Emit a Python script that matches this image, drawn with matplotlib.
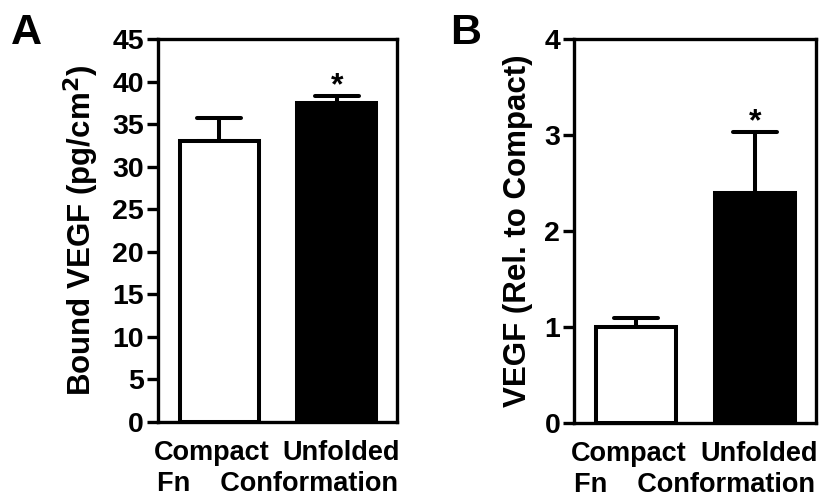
import matplotlib
matplotlib.use("Agg")
import matplotlib.pyplot as plt
from matplotlib.markers import MarkerStyle
from matplotlib.transforms import ScaledTranslation
import numpy as np

plt.rcParams['font.family'] = ['Liberation Sans', 'DejaVu Sans']
plt.rcParams['font.weight'] = 'bold'
plt.rcParams['mathtext.default'] = 'bf'

categories = ["Compact", "Unfolded"]
xlabel_text = "Fn    Conformation"

a_values = [33.0, 37.5]
a_errors = [2.7, 0.8]
a_ticks = [0, 5, 10, 15, 20, 25, 30, 35, 40, 45]
a_ylabel = "Bound VEGF (pg/cm$^\\mathbf{2}$)"

b_values = [1.0, 2.40]
b_errors = [0.09, 0.63]
b_ticks = [0, 1, 2, 3, 4]
b_ylabel = "VEGF (Rel. to Compact)"

face_colors = ["white", "black"]
sig = ["", "*"]

fig = plt.figure(figsize=(8.25, 5), dpi=100)
axA = fig.add_axes([0.1915, 0.156, 0.2895, 0.766])
axB = fig.add_axes([0.6958, 0.154, 0.2932, 0.768])

SLW = 2.4
BLW = 2.9
FS = 19.5
TFS = 20.5
YFS = 22.5

def draw(ax, values, errors, ticks, ylabel):
    x = np.arange(len(categories))
    ax.bar(x, values, width=0.67, color=face_colors, edgecolor="black",
           linewidth=BLW, zorder=2)
    _, caps, bars = ax.errorbar(x, values, yerr=[np.zeros(len(values)), errors],
                                fmt="none", ecolor="black", elinewidth=BLW,
                                capsize=15.5, capthick=BLW, zorder=1)
    for c in caps:
        c.set_marker(MarkerStyle("_", capstyle="round"))
    for xi, v, e, s in zip(x, values, errors, sig):
        if s:
            ax.annotate(s, (xi, v + e), xytext=(0, -4), textcoords="offset points",
                        ha="center", va="bottom", fontsize=23, fontweight="bold")
    ax.set_xlim(-0.52, 1.51)
    ax.set_ylim(ticks[0], ticks[-1])
    ax.set_yticks(ticks)
    ax.set_yticklabels([str(t) for t in ticks], fontsize=TFS, fontweight="bold")
    ax.set_xticks(x)
    ax.set_xticklabels(categories, fontsize=FS, fontweight="bold")
    ax.tick_params(axis="x", length=0, pad=13)
    ax.tick_params(axis="y", length=8, width=SLW, pad=2, direction="out")
    shifts = [-7, 4]
    for lab, dx in zip(ax.get_xticklabels(), shifts):
        lab.set_transform(lab.get_transform() +
                          ScaledTranslation(dx / 100, 0, fig.dpi_scale_trans))
    for sp in ax.spines.values():
        sp.set_linewidth(SLW)
    ax.set_ylabel(ylabel, fontsize=YFS, fontweight="bold", labelpad=8)
    ax.set_xlabel(xlabel_text, fontsize=FS, fontweight="bold", labelpad=3.5)

draw(axA, a_values, a_errors, a_ticks, a_ylabel)
draw(axB, b_values, b_errors, b_ticks, b_ylabel)

fig.text(0.013, 0.975, "A", fontsize=31, fontweight="bold", va="top", ha="left")
fig.text(0.546, 0.975, "B", fontsize=31, fontweight="bold", va="top", ha="left")

fig.savefig("out.png", dpi=100)
